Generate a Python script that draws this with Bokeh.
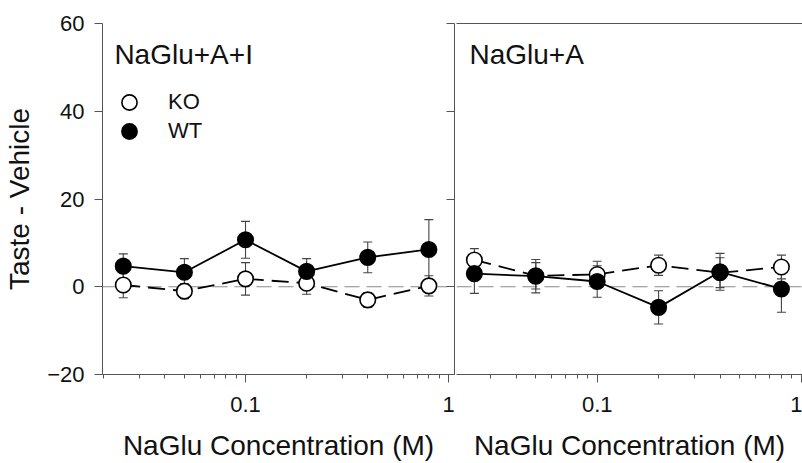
from bokeh.plotting import figure
from bokeh.models import (ColumnDataSource, Whisker, TeeHead, Span, Label, Legend, LegendItem,
                          FixedTicker, LinearAxis, LogAxis, CustomJSTickFormatter, Range1d)
from bokeh.layouts import row
from bokeh.embed import file_html
from bokeh.resources import INLINE

# ---------------- data ----------------
conc = [0.025, 0.05, 0.1, 0.2, 0.4, 0.8]

# Panel 1: NaGlu+A+I
p1_wt = [4.7, 3.3, 10.7, 3.5, 6.7, 8.5]
p1_wt_err = [2.8, 3.1, 4.2, 2.9, 3.5, 6.8]
p1_ko = [0.4, -1.0, 1.8, 0.8, -3.0, 0.2]
p1_ko_err = [2.9, 1.7, 3.7, 2.5, 1.7, 2.3]

# Panel 2: NaGlu+A
p2_wt = [3.0, 2.4, 1.2, -4.7, 3.4, -0.5]
p2_wt_err = [4.5, 3.8, 3.6, 3.8, 4.2, 5.3]
p2_ko = [6.1, 2.5, 2.8, 4.9, 3.2, 4.5]
p2_ko_err = [2.6, 3.0, 3.0, 2.3, 3.4, 2.7]

y_ticks = [-20, 0, 20, 40, 60]
x_major = [0.1, 1]
x_minor = [m * d for d in (0.01, 0.1) for m in range(2, 10)]

FONT = "Liberation Sans"
AX = "#555555"

y_range = Range1d(-20, 60)
fmt = CustomJSTickFormatter(code="return String(Number(tick.toPrecision(6)));")


def style_xaxis(ax):
    ax.ticker = FixedTicker(ticks=x_major, minor_ticks=x_minor)
    ax.formatter = fmt
    ax.axis_label = "NaGlu Concentration (M)"
    ax.axis_label_text_font = FONT
    ax.axis_label_text_font_size = "28px"
    ax.axis_label_text_font_style = "normal"
    ax.axis_label_text_color = "#111111"
    ax.axis_label_standoff = 15
    ax.major_label_text_font = FONT
    ax.major_label_text_font_size = "22px"
    ax.major_label_text_color = "#111111"
    ax.major_label_standoff = 14
    ax.major_tick_out = 8
    ax.major_tick_in = 0
    ax.minor_tick_out = 4
    ax.minor_tick_in = 0
    ax.axis_line_color = AX
    ax.major_tick_line_color = AX
    ax.minor_tick_line_color = AX


def draw_panel(p, wt, wt_err, ko, ko_err):
    p.add_layout(Span(location=0, dimension="width", line_color="#8a8a8a",
                      line_width=1.2, line_dash="15 7", level="underlay"))
    renderers = {}
    for name, vals, errs in (("KO", ko, ko_err), ("WT", wt, wt_err)):
        src = ColumnDataSource(dict(
            x=conc, y=vals,
            upper=[v + e for v, e in zip(vals, errs)],
            lower=[v - e for v, e in zip(vals, errs)]))
        p.add_layout(Whisker(base="x", upper="upper", lower="lower", source=src,
                             dimension="height", line_color="#444444", line_width=1.1,
                             upper_head=TeeHead(size=9, line_color="#444444", line_width=1.1),
                             lower_head=TeeHead(size=9, line_color="#444444", line_width=1.1)))
        if name == "KO":
            p.line("x", "y", source=src, line_color="black", line_width=1.8, line_dash="17 8")
            r = p.scatter("x", "y", source=src, size=15.5, fill_color="white",
                          line_color="black", line_width=1.6)
        else:
            p.line("x", "y", source=src, line_color="black", line_width=1.8)
            r = p.scatter("x", "y", source=src, size=15.5, fill_color="black",
                          line_color="black", line_width=1.6)
        renderers[name] = r
    return renderers


def legend_for(label, rend, y_loc):
    return Legend(items=[LegendItem(label=label, renderers=[rend])],
                  location=(8, y_loc), glyph_width=38, glyph_height=38,
                  padding=9, margin=0, label_standoff=20, label_text_font=FONT,
                  label_text_font_size="22px", label_text_color="#111111",
                  border_line_color=None, background_fill_alpha=0)


# ---------------- left panel ----------------
p1 = figure(width=456, height=463, x_axis_type="log", x_range=Range1d(0.01975, 1.07),
            y_range=y_range, output_backend="svg", toolbar_location=None,
            min_border_left=102, min_border_right=2, min_border_top=23, min_border_bottom=87)
p1.grid.visible = False
p1.outline_line_color = None
style_xaxis(p1.xaxis[0])

ya = p1.yaxis[0]
ya.ticker = FixedTicker(ticks=y_ticks)
ya.axis_label = "Taste - Vehicle"
ya.axis_label_text_font = FONT
ya.axis_label_text_font_size = "28px"
ya.axis_label_text_font_style = "normal"
ya.axis_label_text_color = "#111111"
ya.axis_label_standoff = 9
ya.major_label_text_font = FONT
ya.major_label_text_font_size = "22px"
ya.major_label_text_color = "#111111"
ya.major_label_standoff = 10
ya.major_tick_out = 8
ya.major_tick_in = 0
ya.minor_tick_line_color = None
ya.axis_line_color = AX
ya.major_tick_line_color = AX

ra = LinearAxis(ticker=FixedTicker(ticks=y_ticks), major_tick_in=8, major_tick_out=0,
                minor_tick_line_color=None, major_label_text_font_size="0px",
                major_label_standoff=0, axis_line_color=AX, major_tick_line_color=AX,
                formatter=CustomJSTickFormatter(code="return '';"))
p1.add_layout(ra, "right")

r1 = draw_panel(p1, p1_wt, p1_wt_err, p1_ko, p1_ko_err)
p1.add_layout(Label(x=0.0226, y=53.0, text="NaGlu+A+I", text_font=FONT,
                    text_font_size="28px", text_baseline="alphabetic", text_color="#111111"))

p1.add_layout(legend_for("KO", r1["KO"], 253))
p1.add_layout(legend_for("WT", r1["WT"], 224))

# ---------------- right panel ----------------
p2 = figure(width=346, height=463, x_axis_type="log", x_range=Range1d(0.02043, 1.015),
            y_range=y_range, output_backend="svg", toolbar_location=None,
            y_axis_location=None,
            min_border_left=0, min_border_right=0, min_border_top=23, min_border_bottom=87)
p2.grid.visible = False
p2.outline_line_color = None
style_xaxis(p2.xaxis[0])
top = LogAxis(ticker=FixedTicker(ticks=[]), major_label_text_font_size="0px",
              major_tick_out=0, major_tick_in=0, minor_tick_out=0, minor_tick_in=0,
              major_label_standoff=0, axis_line_color=AX,
              formatter=CustomJSTickFormatter(code="return '';"))
p2.add_layout(top, "above")

draw_panel(p2, p2_wt, p2_wt_err, p2_ko, p2_ko_err)
p2.add_layout(Label(x=0.02366, y=53.0, text="NaGlu+A", text_font=FONT,
                    text_font_size="28px", text_baseline="alphabetic", text_color="#111111"))

layout = row(p1, p2)
open("out.html", "w").write(file_html(layout, INLINE))
